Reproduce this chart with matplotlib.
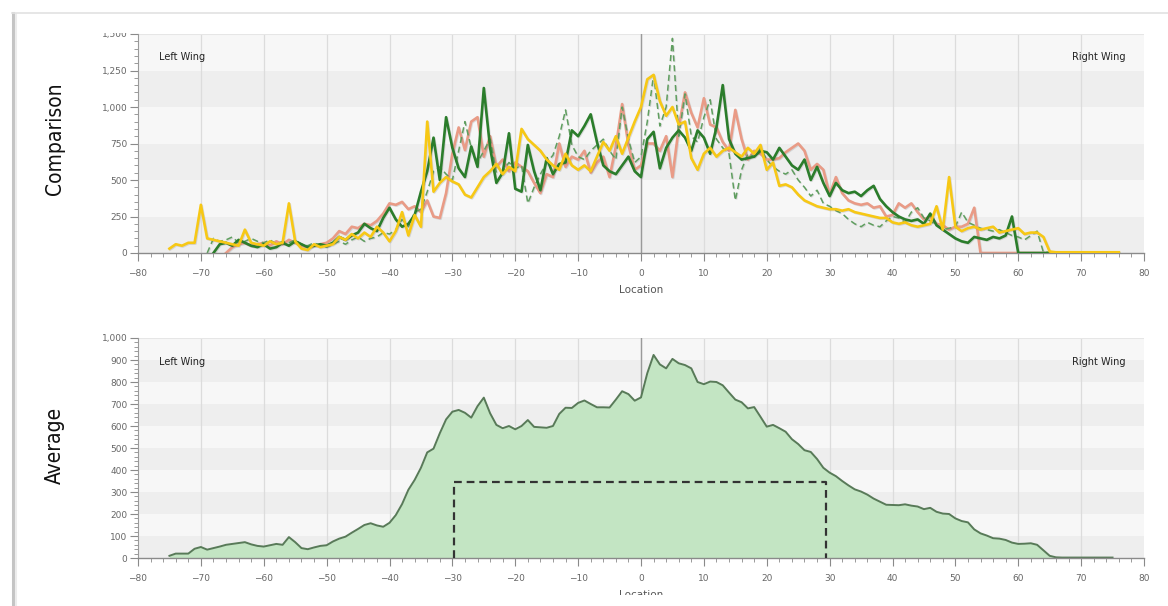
import numpy as np
import matplotlib
matplotlib.use("Agg")
import matplotlib.pyplot as plt
from matplotlib.ticker import MultipleLocator, FuncFormatter
from matplotlib.lines import Line2D
from matplotlib.patches import Rectangle
import matplotlib.patheffects as pe

# ---------------- data ----------------
# Comparison series: values at integer locations starting from *_start
green_start = -68
green_vals = [0, 60, 70, 50, 90, 70, 50, 40, 60, 30, 40, 70, 50, 80, 60, 40, 50, 60, 50, 70,
              110, 90, 120, 140, 200, 170, 150, 240, 310, 230, 180, 200, 260, 420, 560, 790,
              500, 930, 720, 580, 520, 730, 590, 1130, 720, 480, 550, 820, 440, 420, 740, 560,
              430, 650, 540, 610, 620, 840, 800, 870, 950, 760, 600, 560, 540, 600, 660, 560,
              520, 780, 830, 580, 720, 790, 840, 790, 700, 840, 790, 680, 860, 1150, 780, 680,
              640, 650, 660, 700, 690, 640, 720, 660, 600, 570, 640, 500, 590, 480, 390, 480,
              430, 410, 420, 390, 430, 460, 370, 320, 280, 250, 230, 220, 230, 200, 270, 190,
              160, 130, 100, 80, 70, 110, 100, 90, 110, 100, 120, 250, 0, 0, 0, 0, 0, 0, 0, 0,
              0, 0, 0, 0, 0, 0, 0, 0]

salmon_start = -66
salmon_vals = [0, 40, 60, 70, 50, 60, 70, 50, 80, 60, 90, 70, 50, 40, 50, 60, 70, 100, 150,
               130, 180, 170, 200, 190, 220, 270, 340, 330, 350, 300, 320, 280, 360, 250, 240,
               410, 680, 860, 705, 900, 930, 660, 800, 590, 640, 560, 620, 590, 560, 480, 410,
               540, 520, 750, 590, 660, 640, 700, 550, 620, 660, 520, 730, 1020, 740, 570, 600,
               750, 750, 700, 800, 520, 860, 1100, 960, 860, 1060, 880, 860, 760, 700, 980, 780,
               640, 700, 680, 640, 640, 650, 690, 720, 750, 700, 570, 610, 570, 400, 520, 410,
               360, 340, 330, 340, 310, 320, 250, 260, 340, 310, 340, 280, 230, 250, 200, 190,
               160, 180, 180, 200, 310, 0, 0, 0, 0, 0, 0, 0, 0, 0, 0, 0, 0]

dashed_start = -69
dashed_vals = [0, 100, 80, 90, 110, 70, 80, 100, 80, 70, 90, 60, 80, 70, 90, 60, 50, 70, 50,
               40, 60, 80, 60, 90, 110, 80, 100, 110, 140, 130, 160, 230, 180, 280, 300, 420,
               560, 590, 540, 500, 700, 900, 720, 620, 700, 780, 550, 560, 620, 580, 600, 340,
               450, 540, 620, 670, 800, 980, 740, 660, 640, 700, 740, 780, 700, 640, 1000, 780,
               620, 660, 900, 1220, 870, 1000, 1470, 800, 1090, 800, 760, 930, 1050, 780, 720,
               680, 360, 570, 680, 660, 720, 640, 590, 560, 540, 570, 500, 450, 390, 430, 340,
               320, 290, 270, 230, 200, 180, 210, 190, 180, 220, 250, 240, 210, 280, 310, 240,
               220, 190, 160, 170, 180, 280, 210, 190, 170, 160, 150, 160, 140, 120, 110, 90,
               120, 150, 5, 5, 5, 5, 5, 5, 5, 5, 5, 5, 5, 5]

yellow_start = -75
yellow_vals = [30, 60, 50, 70, 70, 330, 100, 90, 80, 70, 60, 50, 160, 70, 60, 50, 80, 60, 70,
               340, 80, 30, 20, 60, 40, 50, 60, 110, 90, 130, 100, 140, 110, 180, 140, 80, 150,
               280, 120, 260, 180, 900, 420, 480, 520, 490, 470, 400, 380, 450, 520, 560, 610,
               540, 590, 560, 850, 780, 740, 700, 640, 600, 570, 680, 600, 570, 600, 560, 660,
               760, 700, 800, 680, 790, 900, 1000, 1190, 1220, 1040, 940, 1000, 880, 900, 650,
               570, 680, 720, 660, 700, 720, 690, 660, 720, 680, 740, 570, 620, 460, 470, 450,
               400, 360, 340, 320, 310, 300, 300, 290, 300, 280, 270, 260, 250, 240, 240, 210,
               200, 210, 190, 180, 190, 200, 320, 160, 520, 180, 150, 170, 180, 160, 170, 180,
               140, 150, 160, 170, 130, 140, 140, 110, 10, 5, 5, 5, 5, 5, 5, 5, 5, 5, 5, 5]

# Average series at integer locations from -75 to 75
avg_start = -75
avg_vals = [10, 20, 20, 20, 42, 50, 38, 45, 52, 60, 64, 68, 72, 62, 55, 52, 58, 64, 60, 95,
            72, 45, 40, 48, 55, 58, 75, 88, 97, 115, 132, 150, 158, 148, 142, 160, 195, 245,
            310, 355, 410, 480, 497, 567, 630, 665, 673, 660, 638, 690, 729, 658, 605, 590,
            600, 585, 600, 627, 596, 594, 592, 600, 655, 683, 682, 705, 716, 700, 685, 685,
            684, 720, 758, 745, 715, 730, 840, 923, 880, 862, 905, 885, 877, 862, 800, 790,
            802, 800, 785, 752, 720, 708, 680, 686, 642, 597, 605, 590, 574, 540, 518, 490,
            482, 450, 410, 388, 372, 350, 330, 312, 302, 288, 270, 256, 242, 241, 240, 244,
            238, 234, 222, 228, 210, 202, 200, 180, 168, 162, 130, 112, 102, 90, 88, 82, 70,
            64, 65, 67, 60, 35, 10, 3, 2, 2, 2, 2, 2, 2, 2, 2, 2]

# Core zone marker on the average chart
zone_left, zone_right, zone_level = -29.7, 29.4, 345

wing_labels = ("Left Wing", "Right Wing")

# ---------------- styling ----------------
W, H = 1168, 606
fig = plt.figure(figsize=(W / 100, H / 100), dpi=100)
fig.patch.set_facecolor("white")

band_dark, band_light = "#eeeeee", "#f7f7f7"


def px_axes(left, top, right, bottom):
    return fig.add_axes([left / W, 1 - bottom / H, (right - left) / W, (bottom - top) / H])


def style_axes(ax, ymax, ystep, yminor):
    ax.set_xlim(-80, 80)
    ax.set_ylim(0, ymax)
    ax.set_facecolor("white")
    n = int(round(ymax / ystep))
    for i in range(n):
        ax.axhspan(i * ystep, (i + 1) * ystep,
                   color=band_dark if i % 2 == 0 else band_light, zorder=0, lw=0)
    for xv in range(-70, 80, 10):
        ax.axvline(xv, color="#dcdcdc", lw=0.9, zorder=0.5)
    ax.axhline(ymax, color="#e6e6e6", lw=0.8, zorder=0.5)
    ax.axvline(0, color="#9a9a9a", lw=1.0, zorder=0.6)
    ax.xaxis.set_major_locator(MultipleLocator(10))
    ax.xaxis.set_minor_locator(MultipleLocator(2))
    ax.yaxis.set_major_locator(MultipleLocator(ystep))
    ax.yaxis.set_minor_locator(MultipleLocator(yminor))
    ax.yaxis.set_major_formatter(FuncFormatter(lambda v, p: f"{v:,.0f}"))
    for s in ("top", "right"):
        ax.spines[s].set_visible(False)
    ax.spines["left"].set_color("#9a9a9a")
    ax.spines["bottom"].set_color("#8a8a8a")
    ax.spines["bottom"].set_linewidth(1.0)
    ax.tick_params(axis="both", which="major", direction="out", length=5.5, width=0.8,
                   color="#8a8a8a", labelcolor="#666666", labelsize=6.5)
    ax.tick_params(axis="both", which="minor", direction="out", length=3, width=0.7,
                   color="#9a9a9a")
    ax.tick_params(axis="x", which="major", pad=6)
    ax.tick_params(axis="y", which="major", pad=2)
    ax.set_xlabel("Location", color="#555555", fontsize=7.5, labelpad=5)
    ax.text(-76.6, ymax * 0.893, wing_labels[0], fontsize=7, color="#222222",
            va="center", ha="left", zorder=5)
    ax.text(77.0, ymax * 0.893, wing_labels[1], fontsize=7, color="#222222",
            va="center", ha="right", zorder=5)


shadow = [pe.SimpleLineShadow(offset=(0.6, -0.6), alpha=0.18, shadow_color="#555555"),
          pe.Normal()]


def series_x(start, vals):
    return np.arange(start, start + len(vals))


# ---------------- Comparison ----------------
ax1 = px_axes(138, 34, 1144, 253)
style_axes(ax1, 1500, 250, 50)

ax1.plot(series_x(salmon_start, salmon_vals), salmon_vals, color="#e99b86", lw=1.9,
         zorder=2, path_effects=shadow)
ax1.plot(series_x(dashed_start, dashed_vals), dashed_vals, color="#5f9e5f", lw=1.1,
         ls=(0, (4, 2.5)), zorder=2.5, path_effects=shadow)
ax1.plot(series_x(green_start, green_vals), green_vals, color="#2b7d2b", lw=1.9,
         zorder=3, path_effects=shadow)
ax1.plot(series_x(yellow_start, yellow_vals), yellow_vals, color="#f7c815", lw=1.9,
         zorder=3.5, path_effects=shadow)

# ---------------- Average ----------------
ax2 = px_axes(138, 338, 1144, 558)
style_axes(ax2, 1000, 100, 20)
avg_x = series_x(avg_start, avg_vals)
ax2.fill_between(avg_x, 0, avg_vals, color="#c3e5c3", zorder=1.5, lw=0)
ax2.plot(avg_x, avg_vals, color="#587a58", lw=1.4, zorder=2)
ax2.plot([zone_left, zone_left, zone_right, zone_right], [0, zone_level, zone_level, 0],
         color="#333333", lw=1.6, ls=(0, (3.5, 2.2)), zorder=3)

# ---------------- side titles ----------------
title_font = dict(fontsize=15, family="DejaVu Sans", stretch="condensed", color="#111111")
fig.text(55 / W, 1 - 139 / H, "Comparison", rotation=90, ha="center", va="center",
         **title_font)
fig.text(55 / W, 1 - 445 / H, "Average", rotation=90, ha="center", va="center",
         **title_font)

# ---------------- panel frame ----------------
fig.add_artist(Rectangle((14 / W, 0), 1 - 14 / W, 11 / H, transform=fig.transFigure,
                         facecolor="white", edgecolor="none", zorder=10))
fig.add_artist(Rectangle((100 / W, 1 - 33 / H), 36 / W, 19 / H, transform=fig.transFigure,
                         facecolor="white", edgecolor="none", zorder=10))
fig.add_artist(Line2D([13 / W, 13 / W], [0, 1 - 13 / H], transform=fig.transFigure,
                      color="#c4c4c4", lw=2.2, zorder=11))
fig.add_artist(Line2D([15.5 / W, 15.5 / W], [0, 1 - 14 / H], transform=fig.transFigure,
                      color="#ececec", lw=1.5, zorder=11))
fig.add_artist(Line2D([12 / W, 1], [1 - 13 / H, 1 - 13 / H], transform=fig.transFigure,
                      color="#e2e2e2", lw=1.2, zorder=11))

fig.savefig("out.png", dpi=100, facecolor="white")
